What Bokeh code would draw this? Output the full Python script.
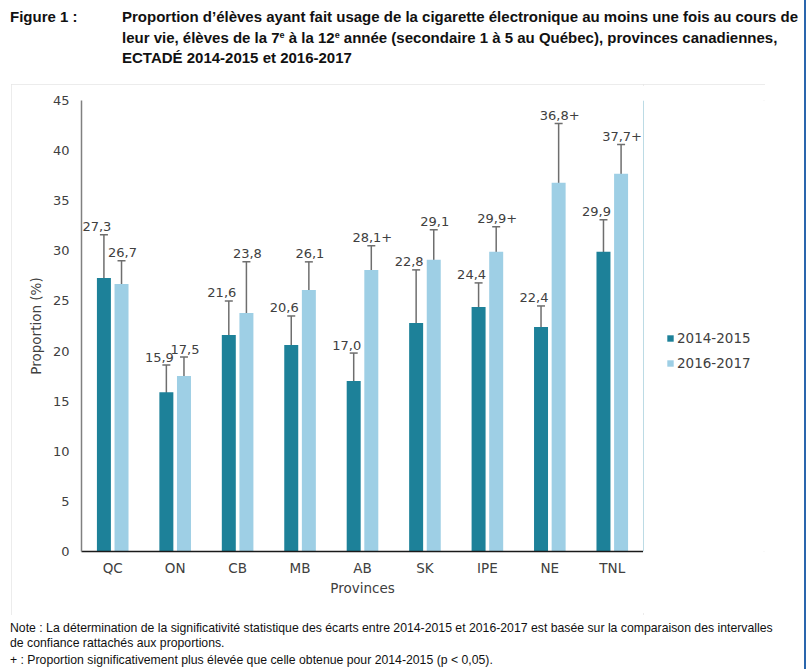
from bokeh.plotting import figure
from bokeh.models import (ColumnDataSource, FactorRange, Range1d, Whisker, TeeHead,
                          Legend, LegendItem, Div)
from bokeh.layouts import column, row
from bokeh.transform import dodge
from bokeh.core.properties import value
from bokeh.embed import file_html
from bokeh.resources import INLINE

provinces = ["QC", "ON", "CB", "MB", "AB", "SK", "IPE", "NE", "TNL"]
v2014 = [27.3, 15.9, 21.6, 20.6, 17.0, 22.8, 24.4, 22.4, 29.9]
v2016 = [26.7, 17.5, 23.8, 26.1, 28.1, 29.1, 29.9, 36.8, 37.7]
lo2014 = [22.8, 13.1, 18.2, 17.6, 14.0, 17.5, 21.8, 20.3, 26.6]
hi2014 = [31.6, 18.6, 25.0, 23.5, 19.8, 28.1, 26.8, 24.5, 33.1]
lo2016 = [24.2, 15.7, 18.7, 23.2, 25.5, 25.9, 27.4, 31.0, 34.6]
hi2016 = [29.0, 19.4, 28.9, 28.9, 30.5, 32.1, 32.4, 42.7, 40.6]
sig2016 = ["", "", "", "", "+", "", "+", "+", "+"]
series = ["2014-2015", "2016-2017"]
y_ticks = [0, 5, 10, 15, 20, 25, 30, 35, 40, 45]

fig_label = "Figure 1 :"
SUP = '<span style="font-size:9px;vertical-align:5px;line-height:0">e</span>'
title_lines = [
    "Proportion d\u2019élèves ayant fait usage de la cigarette électronique au moins une fois au cours de",
    f"leur vie, élèves de la 7{SUP} à la 12{SUP} année (secondaire 1 à 5 au Québec), provinces canadiennes,",
    "ECTADÉ 2014-2015 et 2016-2017",
]
note_lines = [
    "Note : La détermination de la significativité statistique des écarts entre 2014-2015 et 2016-2017 est basée sur la comparaison des intervalles",
    "de confiance rattachés aux proportions.",
    "+ : Proportion significativement plus élevée que celle obtenue pour 2014-2015 (p &lt; 0,05).",
]

def fmt(v, s=""):
    return f"{v:.1f}".replace(".", ",") + s

src = ColumnDataSource(dict(
    prov=provinces, v2014=v2014, v2016=v2016,
    lo2014=lo2014, hi2014=hi2014, lo2016=lo2016, hi2016=hi2016,
    lab2014=[fmt(v) for v in v2014],
    lab2016=[fmt(v, s) for v, s in zip(v2016, sig2016)],
))

C_DARK = "#1d8199"
C_LIGHT = "#9ecfe5"
TXT = "#404040"
FONT = "DejaVu Sans"
HEAD_FONT = "'Liberation Sans Narrow', 'Liberation Sans', Arial, sans-serif"

# chart box: canvas x 11..765, y 84..615 ; frame x 81..643, y 100..551
BH = 531
p = figure(width=632, height=BH, output_backend="svg", toolbar_location=None,
           x_range=FactorRange(*provinces, range_padding=0),
           y_range=Range1d(0, 45),
           min_border_left=70, min_border_right=0,
           min_border_top=16, min_border_bottom=64)
p.outline_line_color = None
p.xgrid.grid_line_color = None
p.ygrid.grid_line_color = None
p.background_fill_color = "white"
p.border_fill_color = "white"

off = 0.141
bw = 0.224
p.vbar(x=dodge("prov", -off, range=p.x_range), top="v2014", width=bw,
       source=src, fill_color=C_DARK, line_color=None)
p.vbar(x=dodge("prov", off, range=p.x_range), top="v2016", width=bw,
       source=src, fill_color=C_LIGHT, line_color=None)

for o, lo, hi in [(-off, "lo2014", "hi2014"), (off, "lo2016", "hi2016")]:
    w = Whisker(base=dodge("prov", o, range=p.x_range), lower=lo, upper=hi, source=src,
                line_color="#6e6e6e", line_width=1.5,
                upper_head=TeeHead(size=8, line_color="#6e6e6e", line_width=1.5),
                lower_head=TeeHead(size=8, line_color="#6e6e6e", line_width=1.5))
    p.add_layout(w)

p.text(x=dodge("prov", -off, range=p.x_range), y="hi2014", text="lab2014", source=src,
       x_offset=-7, y_offset=-8, text_align="center", text_baseline="middle",
       text_font=value(FONT), text_font_size="13px", text_color=TXT)
p.text(x=dodge("prov", off, range=p.x_range), y="hi2016", text="lab2016", source=src,
       x_offset=1, y_offset=-8, text_align="center", text_baseline="middle",
       text_font=value(FONT), text_font_size="13px", text_color=TXT)

# axes
p.yaxis.ticker = y_ticks
p.yaxis.axis_line_color = "#808080"
p.yaxis.axis_line_width = 1.5
p.yaxis.major_tick_line_color = None
p.yaxis.minor_tick_line_color = None
p.yaxis.major_tick_out = 0
p.yaxis.minor_tick_out = 0
p.yaxis.major_label_text_font = FONT
p.yaxis.major_label_text_font_size = "13px"
p.yaxis.major_label_text_color = TXT
p.yaxis.major_label_standoff = 12
p.yaxis.axis_label = "Proportion (%)"
p.yaxis.axis_label_text_font = FONT
p.yaxis.axis_label_text_font_size = "13.5px"
p.yaxis.axis_label_text_font_style = "normal"
p.yaxis.axis_label_text_color = TXT
p.yaxis.axis_label_standoff = 6

p.xaxis.axis_line_color = "#1a1a1a"
p.xaxis.axis_line_width = 1.5
p.xaxis.major_tick_line_color = None
p.xaxis.minor_tick_line_color = None
p.xaxis.major_tick_out = 0
p.xaxis.minor_tick_out = 0
p.xaxis.major_label_text_font = FONT
p.xaxis.major_label_text_font_size = "13.5px"
p.xaxis.major_label_text_color = TXT
p.xaxis.major_label_standoff = 8
p.xaxis.axis_label = "Provinces"
p.xaxis.axis_label_text_font = FONT
p.xaxis.axis_label_text_font_size = "13.5px"
p.xaxis.axis_label_text_font_style = "normal"
p.xaxis.axis_label_text_color = TXT
p.xaxis.axis_label_standoff = 1

# legend panel (right part of the chart box)
lg = figure(width=122, height=BH, output_backend="svg", toolbar_location=None,
            x_range=Range1d(0, 1), y_range=Range1d(0, 1), min_border=0)
lg.axis.visible = False
lg.grid.visible = False
lg.outline_line_color = None
lr1 = lg.vbar(x=[-10], top=[1], width=0.1, fill_color=C_DARK, line_color=None)
lr2 = lg.vbar(x=[-10], top=[1], width=0.1, fill_color=C_LIGHT, line_color=None)
legend = Legend(items=[LegendItem(label=series[0], renderers=[lr1]),
                       LegendItem(label=series[1], renderers=[lr2])],
                location=(23, 180),
                glyph_width=8, glyph_height=8, label_standoff=3, spacing=9,
                padding=0, margin=0, border_line_color=None,
                background_fill_alpha=0,
                label_text_font=FONT, label_text_font_size="13.5px",
                label_text_color=TXT)
lg.add_layout(legend)

box = row(p, lg, spacing=0, margin=(0, 0, 0, 11),
          styles={"outline": "2px solid #e6e6e6", "outline-offset": "-2px"})

title_html = (
    f'<div style="position:relative;width:804px;height:84px;font-family:{HEAD_FONT};'
    f'font-weight:bold;font-size:15px;color:#111;white-space:nowrap">'
    f'<div style="position:absolute;left:10px;top:7px;line-height:20.5px">{fig_label}</div>'
    f'<div style="position:absolute;left:122px;top:7px;line-height:20.5px">'
    + "<br>".join(title_lines) + '</div></div>'
)
title_div = Div(text=title_html, width=804, height=84, margin=0)

tops = [4, 19, 36]
notes_html = (
    f'<div style="position:relative;width:804px;height:54px;font-family:{HEAD_FONT};'
    f'font-size:12.25px;color:#111;white-space:nowrap">'
    + "".join(f'<div style="position:absolute;left:10px;top:{t}px;line-height:18px">{s}</div>'
              for t, s in zip(tops, note_lines))
    + '</div>'
)
notes_div = Div(text=notes_html, width=804, height=54, margin=0)

blue = Div(text="", width=2, height=669, margin=(0, 4, 0, 0),
           styles={"background-color": "#2a66ad"})

layout = row(column(title_div, box, notes_div, spacing=0, margin=0), blue, spacing=0, margin=0)

open("out.html", "w").write(file_html(layout, INLINE))
